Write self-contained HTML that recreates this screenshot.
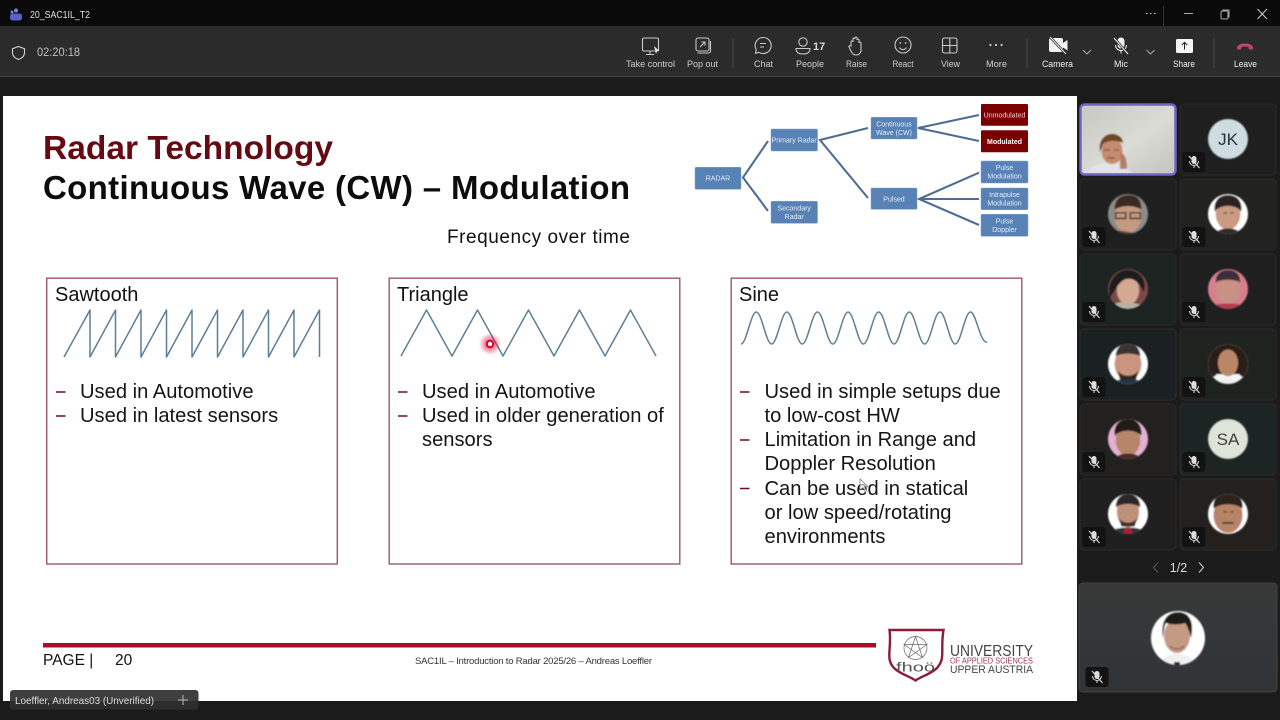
<!DOCTYPE html>
<html lang="en"><head><meta charset="utf-8"><title>Radar Technology</title>
<style>html,body{margin:0;padding:0;background:#1c1c1c;width:1280px;height:720px;overflow:hidden}svg{display:block;font-family:"Liberation Sans",sans-serif}</style></head>
<body>
<svg width="1280" height="720" viewBox="0 0 1280 720" xmlns="http://www.w3.org/2000/svg">
<defs>
<clipPath id="c20"><circle r="17.900"/></clipPath>
<clipPath id="c27"><circle r="27"/></clipPath>
<clipPath id="t1"><rect x="1082" y="106" width="92" height="67" rx="3"/></clipPath>
<radialGradient id="glow"><stop offset="0.2" stop-color="#e8002a" stop-opacity=".7"/><stop offset="1" stop-color="#e8002a" stop-opacity="0"/></radialGradient>
<linearGradient id="bigt" x1="0" y1="0" x2="0" y2="1"><stop offset="0" stop-color="#383838"/><stop offset="1" stop-color="#303437"/></linearGradient>
<linearGradient id="wall" x1="0" y1="0" x2="1" y2="1"><stop offset="0" stop-color="#c8c8c2"/><stop offset=".55" stop-color="#dcdcd6"/><stop offset="1" stop-color="#c4c4be"/></linearGradient>
<filter id="soft" x="-10%" y="-10%" width="120%" height="120%"><feGaussianBlur stdDeviation="0.7"/></filter>
<g id="mute"><rect x="-11.500" y="-10" width="23" height="20" rx="3" fill="#121212"/><rect x="-2.500" y="-6" width="5" height="8" rx="2.500" fill="#ddd"/><path d="M-4.500 -1a4.500 4.500 0 0 0 9 0M0 3.500v2.500" fill="none" stroke="#ddd"/><path d="M-5 -6L5.500 6" stroke="#ddd" stroke-width="1.100"/></g>
</defs>

<!-- window chrome -->
<rect width="1280" height="720" fill="#1b1b1b"/>
<rect width="1280" height="26" fill="#0a0a0a"/>
<rect y="26" width="1280" height="50" fill="#2b2b2b"/>
<rect y="76" width="1280" height="1" fill="#454545"/>
<circle cx="16" cy="10.500" r="2" fill="#7b83d8"/><circle cx="12" cy="12" r="1.500" fill="#7b83d8"/><rect x="10" y="13.500" width="12" height="7" rx="2.500" fill="#5b5fc7"/>
<text x="30" y="18" font-size="10.500" fill="#e0e0e0" textLength="60" lengthAdjust="spacingAndGlyphs">20_SAC1IL_T2</text>
<path d="M1146 13.500h1.500M1150 13.500h1.500M1154 13.500h1.500" stroke="#ccc"/>
<path d="M1163.500 6v21" stroke="#333"/>
<path d="M1184 13.500h9" stroke="#aaa"/>
<rect x="1221" y="11" width="7" height="8" rx="1.500" fill="none" stroke="#aaa"/><path d="M1223 11v-1h6v7h-1" fill="none" stroke="#aaa"/>
<path d="M1257.500 9l9.500 10M1267 9l-9.500 10" stroke="#ccc"/>
<path d="M18.500 46.500l6 2.200v4c0 3.300-2.500 5.500-6 6.800-3.500-1.300-6-3.500-6-6.800v-4z" fill="none" stroke="#d5d5d5" stroke-width="1.100"/>
<text x="37" y="56" font-size="12" fill="#c0c0c0" textLength="43" lengthAdjust="spacingAndGlyphs">02:20:18</text>

<!-- toolbar icons -->
<g fill="none" stroke="#c8c8c8" stroke-width="1.100">
<rect x="642.500" y="38" width="16" height="13" rx="1.500"/><path d="M650 51v3M646 54.500h8"/>
<path d="M654 46l5.500 5-2.500.3-1 2.700z" fill="#e0e0e0" stroke="none"/>
<rect x="696" y="38" width="13" height="13" rx="2"/><path d="M700 47l5-5M701.500 42h3.500v3.500M697.500 53h11a2 2 0 0 0 2-2v-10"/>
<path d="M763 37.500a8 8 0 1 1-4 14.800l-3.500 1 .8-3.600a8 8 0 0 1 6.700-12.200zM760 43.500h6M760 47h4"/>
<circle cx="803" cy="42" r="4.200"/><path d="M796 48.500h14c0 3.500-2.500 5.500-7 5.500s-7-2-7-5.500z"/>
<path d="M851 45v-3a1 1 0 0 1 2 0v-3a1 1 0 0 1 2 0v-1a1 1 0 0 1 2 0v2a1 1 0 0 1 2 0v3a1 1 0 0 1 2 0v7c0 3-2 5-5 5-2.500 0-3.500-1-4.500-3l-2.500-5c-.5-1 1-2 2-1z"/>
<circle cx="903" cy="45" r="8"/><path d="M899.500 47.500a4 4 0 0 0 7 0"/>
<rect x="942.500" y="38" width="14.500" height="15" rx="2"/><path d="M949.800 38v15M942.500 45.500h14.500"/>
</g>
<circle cx="900.300" cy="43" r=".9" fill="#c8c8c8"/><circle cx="905.700" cy="43" r=".9" fill="#c8c8c8"/>
<text x="813" y="50" font-size="11" font-weight="bold" fill="#d8d8d8">17</text>
<circle cx="990.500" cy="45" r="1.100" fill="#ccc"/><circle cx="996" cy="45" r="1.100" fill="#ccc"/><circle cx="1001.500" cy="45" r="1.100" fill="#ccc"/>
<rect x="1049" y="38" width="14" height="14" rx="2" fill="#f2f2f2"/><path d="M1063 43l4.500-3v10.500l-4.500-3z" fill="#f2f2f2"/><path d="M1050 37l16 17" stroke="#2b2b2b" stroke-width="2.500"/><path d="M1050 37l16 17" stroke="#eee"/>
<path d="M1083 50l4 4 4-4M1146.500 50l4 4 4-4" fill="none" stroke="#aaa"/>
<rect x="1117.500" y="37.500" width="7" height="11" rx="3.500" fill="#f2f2f2"/><path d="M1115.500 45a5.500 5.500 0 0 0 11 0M1121 50.500v3" fill="none" stroke="#f2f2f2"/><path d="M1114 38l14 16" stroke="#2b2b2b" stroke-width="2.500"/><path d="M1114 38l14 16" stroke="#eee"/>
<rect x="1176" y="39" width="17" height="14" rx="1.500" fill="#f6f6f6"/><path d="M1184.500 49.500v-7M1181.800 45l2.700-2.700 2.700 2.700" fill="none" stroke="#222"/>
<path d="M1237 48c0-6 16-6 16 0l-.5 1.500h-3.500l-.5-2.500c-2-.7-5-.7-7 0l-.5 2.500h-3.500z" fill="#c2476b"/>
<path d="M733 38v30M1027 38v30M1214 38v30" stroke="#484848"/>
<g font-size="9.500" fill="#cfcfcf">
<text x="626" y="67" textLength="49" lengthAdjust="spacingAndGlyphs">Take control</text>
<text x="687" y="67" textLength="31" lengthAdjust="spacingAndGlyphs">Pop out</text>
<text x="754" y="67" textLength="19" lengthAdjust="spacingAndGlyphs">Chat</text>
<text x="796" y="67" textLength="28" lengthAdjust="spacingAndGlyphs">People</text>
<text x="846" y="67" textLength="21" lengthAdjust="spacingAndGlyphs">Raise</text>
<text x="892.500" y="67" textLength="21" lengthAdjust="spacingAndGlyphs">React</text>
<text x="941" y="67" textLength="19" lengthAdjust="spacingAndGlyphs">View</text>
<text x="986" y="67" textLength="21" lengthAdjust="spacingAndGlyphs">More</text>
<g fill="#f0f0f0">
<text x="1042" y="67" textLength="31" lengthAdjust="spacingAndGlyphs">Camera</text>
<text x="1114" y="67" textLength="14" lengthAdjust="spacingAndGlyphs">Mic</text>
<text x="1173" y="67" textLength="22" lengthAdjust="spacingAndGlyphs">Share</text>
<text x="1234" y="67" textLength="23" lengthAdjust="spacingAndGlyphs">Leave</text>
</g>
</g>

<!-- slide -->
<rect x="3" y="96" width="1074" height="605" fill="#fff"/>
<text x="43" y="159" font-size="33.500" font-weight="bold" fill="#660912" textLength="290" lengthAdjust="spacing">Radar Technology</text>
<text x="43" y="199" font-size="33" font-weight="bold" fill="#0c0c0c" textLength="587" lengthAdjust="spacing">Continuous Wave (CW) – Modulation</text>
<text x="447" y="243" font-size="19" fill="#111" textLength="183" lengthAdjust="spacing">Frequency over time</text>

<!-- radar tree -->
<g fill="none" stroke="#4f6c94" stroke-width="2.100">
<path d="M768 141L743 177.500L768 211"/>
<path d="M868 128L820 140L868 198"/>
<path d="M979 115L918 128L979 141"/>
<path d="M979 172.700L919 199L979 225M919 199H979"/>
</g>
<g fill="#5882b6" stroke="#7f9fc9" stroke-width=".5">
<rect x="695" y="167.300" width="46" height="22" rx="1"/>
<rect x="771" y="129" width="46.500" height="22" rx="1"/>
<rect x="771" y="201.300" width="46.500" height="22" rx="1"/>
<rect x="871" y="117.300" width="46" height="21.700" rx="1"/>
<rect x="871" y="188" width="46" height="21.300" rx="1"/>
<rect x="981" y="161" width="47" height="22" rx="1"/>
<rect x="981" y="188" width="47" height="21.700" rx="1"/>
<rect x="981" y="214.300" width="47" height="22" rx="1"/>
</g>
<rect x="981" y="104" width="47" height="21.700" rx="1" fill="#7a0000"/>
<rect x="981" y="130.300" width="47" height="22" rx="1" fill="#7a0000"/>
<g font-size="7" fill="#e4edf7" text-anchor="middle">
<text x="718" y="180.700">RADAR</text>
<text x="794.200" y="142.500">Primary Radar</text>
<text x="794.200" y="210.500">Secondary</text><text x="794.200" y="219">Radar</text>
<text x="894" y="126.500">Continuous</text><text x="894" y="135">Wave (CW)</text>
<text x="894" y="201.500">Pulsed</text>
<text x="1004.500" y="170">Pulse</text><text x="1004.500" y="178.500">Modulation</text>
<text x="1004.500" y="197">Intrapulse</text><text x="1004.500" y="205.500">Modulation</text>
<text x="1004.500" y="223.500">Pulse</text><text x="1004.500" y="232">Doppler</text>
<text x="1004.500" y="117.500" fill="#f6c9cf">Unmodulated</text>
<text x="1004.500" y="144" fill="#fff" font-weight="bold">Modulated</text>
</g>

<!-- panels -->
<g fill="#fff" stroke="#9c5868" stroke-width="1.400">
<rect x="46.700" y="278.200" width="290.600" height="285.800"/>
<rect x="389.200" y="278.200" width="290.600" height="285.800"/>
<rect x="731.200" y="278.200" width="290.600" height="285.800"/>
</g>
<g font-size="20" fill="#111">
<text x="55" y="301">Sawtooth</text><text x="397" y="301">Triangle</text><text x="739" y="301">Sine</text>
</g>
<g fill="none" stroke="#5f7f97" stroke-width="1.500" stroke-linejoin="round">
<path d="M64 357L90 310V357L115.500 310V357L141 310V357L166.500 310V357L192 310V357L217.500 310V357L243 310V357L268.500 310V357L294 310V357L319.500 310V357"/>
<path d="M401 356L426.500 310L452 356L477.500 310L503 356L528.500 310L554 356L579.500 310L605 356L630.500 310L656 356"/>
<path d="M741 344C746.600 344 750.700 312 756.300 312S766 344 771.600 344S781.300 312 786.900 312S796.600 344 802.200 344S811.900 312 817.500 312S827.200 344 832.800 344S842.500 312 848.100 312S857.800 344 863.400 344S873.100 312 878.700 312S888.400 344 894 344S903.700 312 909.300 312S919 344 924.600 344S934.300 312 939.900 312S949.600 344 955.200 344S964.900 312 970.500 312S980.200 344 987 342"/>
</g>
<g font-size="20.150" fill="#151515">
<text x="80" y="398">Used in Automotive</text>
<text x="80" y="422">Used in latest sensors</text>
<text x="422" y="398">Used in Automotive</text>
<text x="422" y="422">Used in older generation of</text>
<text x="422" y="446">sensors</text>
<text x="764.500" y="398">Used in simple setups due</text>
<text x="764.500" y="422">to low-cost HW</text>
<text x="764.500" y="446">Limitation in Range and</text>
<text x="764.500" y="470">Doppler Resolution</text>
<text x="764.500" y="495">Can be used in statical</text>
<text x="764.500" y="519">or low speed/rotating</text>
<text x="764.500" y="543">environments</text>
</g>
<path d="M56 392h9.500M56 416h9.500M398 392h9.500M398 416h9.500M740 392h9.500M740 440h9.500M740 488.500h9.500" stroke="#6e0a28" stroke-width="1.500"/>

<!-- laser and cursor -->
<circle cx="490" cy="344" r="11" fill="url(#glow)"/>
<circle cx="490" cy="344" r="3.200" fill="#fff" stroke="#d8002a" stroke-width="2"/>
<path d="M860 479v11l3-2.500 2 4 1.500-.8-2-3.800 3.500-.3z" fill="#fff" fill-opacity=".6" stroke="#777" stroke-width=".7"/>

<!-- footer -->
<rect x="43" y="643" width="833" height="4.500" fill="#a80d2c"/>
<text x="43" y="665" font-size="15.500" fill="#111">PAGE |</text>
<text x="115" y="665" font-size="15.500" fill="#111">20</text>
<text x="415" y="664" font-size="9.500" fill="#333" textLength="237" lengthAdjust="spacing">SAC1IL – Introduction to Radar 2025/26 – Andreas Loeffler</text>
<path d="M889.500 630H943.500C940 650 946 658 937 668C931 674 922 676 915.500 680.500C909 676 900 674 894 668C885 658 892 650 889.500 630Z" fill="#fff" stroke="#8e1b35" stroke-width="2.400"/>
<g fill="none" stroke="#666" stroke-width=".7"><circle cx="915.500" cy="648" r="11.500"/><path d="M915.500 636.500l7 21-18.500-13h23L908.500 657.500z"/></g>
<text x="896" y="671.500" font-size="13" fill="#555" textLength="39" lengthAdjust="spacingAndGlyphs">fhoö</text>
<text x="950" y="656" font-size="15.500" fill="#444" textLength="83" lengthAdjust="spacingAndGlyphs">UNIVERSITY</text>
<text x="950" y="663.500" font-size="8" fill="#a63355" textLength="83" lengthAdjust="spacingAndGlyphs">OF APPLIED SCIENCES</text>
<text x="950" y="673" font-size="11" fill="#444" textLength="83" lengthAdjust="spacingAndGlyphs">UPPER AUSTRIA</text>

<!-- name label -->
<rect x="10" y="690" width="188.500" height="19.500" rx="3" fill="#2f2f2f" fill-opacity=".92"/>
<text x="15" y="704" font-size="10.500" fill="#dcdcdc" textLength="139" lengthAdjust="spacingAndGlyphs">Loeffler, Andreas03 (Unverified)</text>
<path d="M178 700h10M183 695v10" stroke="#bbb"/>

<!-- tiles -->
<g fill="#1f1f1f" stroke="#2b2b2b">
<rect x="1180" y="104" width="96" height="71" rx="4"/>
<rect x="1080" y="179" width="96" height="71" rx="4"/><rect x="1180" y="179" width="96" height="71" rx="4" fill="#222220"/>
<rect x="1080" y="254" width="96" height="71" rx="4" fill="#1c2321"/><rect x="1180" y="254" width="96" height="71" rx="4"/>
<rect x="1080" y="329" width="96" height="71" rx="4" fill="#1b2122"/><rect x="1180" y="329" width="96" height="71" rx="4" fill="#1f231f"/>
<rect x="1080" y="404" width="96" height="71" rx="4" fill="#23211f"/><rect x="1180" y="404" width="96" height="71" rx="4" fill="#1d2424"/>
<rect x="1080" y="479" width="96" height="71" rx="4"/><rect x="1180" y="479" width="96" height="71" rx="4" fill="#23201e"/>
</g>
<rect x="1079" y="583" width="198" height="109" rx="4" fill="url(#bigt)" stroke="#434343"/>

<!-- presenter -->
<rect x="1080.500" y="104.500" width="95" height="70" rx="4" fill="#d0d0cc" stroke="#6f66c4" stroke-width="2.500"/>
<g clip-path="url(#t1)" filter="url(#soft)">
<rect x="1082" y="106" width="92" height="67" fill="url(#wall)"/>
<path d="M1088 173c4-9 14-9 24-11l12 3 8 8z" fill="#e2e4e6"/>
<ellipse cx="1112" cy="151" rx="10.500" ry="13" fill="#c58c70"/>
<path d="M1100 152c-2-13 6-19 14-18 6 1 9 5 9 9-6-3-15-3-20 1z" fill="#6c4a28"/>
<path d="M1120 152c5 2 7 7 7 17h-7z" fill="#b57d66"/>
<path d="M1104 150h6M1114 150h5M1107 158h8" stroke="#4c2a20"/>
</g>

<!-- avatars -->
<g filter="url(#soft)">
<circle cx="1228" cy="139" r="20" fill="#cfdde2"/>
<g transform="translate(1128 214) scale(1.120)" clip-path="url(#c20)"><rect x="-20" y="-20" width="40" height="40" fill="#8b8b88"/><ellipse cx="0" cy="2" rx="12" ry="15" fill="#c39a80"/><path d="M-12 -4c0-10 6-13 13-13s11 4 11 13c-7-4-17-4-24 0z" fill="#3a2a22"/><path d="M-11-1h9v5h-9zM2-1h9v5h-9z" fill="none" stroke="#222" stroke-width="1.200"/><path d="M-20 20c4-5 12-6 20-4s14 0 20 4z" fill="#5a4436"/></g>
<g transform="translate(1228 214) scale(1.120)" clip-path="url(#c20)"><rect x="-20" y="-20" width="40" height="40" fill="#fff"/><ellipse cx="0" cy="0" rx="11" ry="14" fill="#c89b82"/><path d="M-12-2c-1-12 6-15 12-15s13 3 12 15c-5-7-19-7-24 0z" fill="#2a2420"/><path d="M-4-1h3M2-1h3" stroke="#333"/><path d="M-12 20c2-6 6-7 12-7s10 1 12 7z" fill="#2f2a28"/></g>
<g transform="translate(1128 289) scale(1.120)" clip-path="url(#c20)"><rect x="-20" y="-20" width="40" height="40" fill="#7c4a48"/><ellipse cx="0" cy="1" rx="10" ry="13" fill="#d4a992"/><path d="M-16 8c-4-14 6-26 17-25s16 10 13 20c-3-8-9-13-14-12-6 0-10 7-16 17z" fill="#1e1a1a"/><path d="M-16 20c2-8 8-9 16-8s14 1 16 8z" fill="#b8b39f"/></g>
<g transform="translate(1228 289) scale(1.120)" clip-path="url(#c20)"><rect x="-20" y="-20" width="40" height="40" fill="#d77f8d"/><ellipse cx="0" cy="0" rx="10.500" ry="14" fill="#c99086"/><path d="M-11-6c0-8 5-11 11-11s11 3 11 11c-6-3-16-3-22 0z" fill="#3e2f3d"/><path d="M-16 20c3-7 9-7 16-7s13 0 16 7z" fill="#b83a4c"/></g>
<g transform="translate(1128 364) scale(1.120)" clip-path="url(#c20)"><rect x="-20" y="-20" width="40" height="40" fill="#fff"/><ellipse cx="0" cy="0" rx="12" ry="15" fill="#c9957e"/><path d="M-11-7c0-7 5-12 11-12s11 5 11 12c-6-3-16-3-22 0z" fill="#3d3330"/><path d="M-9 6c4 6 14 6 18 0l-2 9h-14z" fill="#33261f"/><path d="M-18 20c3-6 10-6 18-6s15 0 18 6z" fill="#26324c"/></g>
<g transform="translate(1228 364) scale(1.120)" clip-path="url(#c20)"><rect x="-20" y="-20" width="40" height="40" fill="#f5f5f5"/><path d="M-20 9c-3-20 8-29 20-29s23 9 20 29c-3 4-7 4-10 0h-20c-3 4-7 4-10 0z" fill="#2b1c14"/><ellipse cx="0" cy="-1" rx="9" ry="12" fill="#b98668"/><path d="M-9 20c1-6 5-7 9-7s8 1 9 7z" fill="#eee"/></g>
<g transform="translate(1128 439) scale(1.120)" clip-path="url(#c20)"><rect x="-20" y="-20" width="40" height="40" fill="#e4b0d2"/><ellipse cx="0" cy="1" rx="11" ry="14" fill="#b78668"/><path d="M-12-3c-1-10 5-15 12-15s13 5 12 15c-6-6-18-6-24 0z" fill="#241a18"/><path d="M-13 20c3-6 7-7 13-7s10 1 13 7z" fill="#4a2c2c"/></g>
<circle cx="1228" cy="439" r="20" fill="#dfe4d8"/>
<g transform="translate(1128 514) scale(1.120)" clip-path="url(#c20)"><rect x="-20" y="-20" width="40" height="40" fill="#fff"/><ellipse cx="0" cy="-2" rx="10" ry="14" fill="#c0917a"/><path d="M-11-6c0-8 5-12 11-12s11 4 11 12c-6-4-16-4-22 0z" fill="#2d2826"/><path d="M-8 4c4 5 12 5 16 0l-2 7h-12z" fill="#3a2b26"/><path d="M-18 20c3-7 10-8 18-8s15 1 18 8z" fill="#2a3040"/><path d="M-3 13h6l1 7h-8z" fill="#b51f30"/></g>
<g transform="translate(1228 514) scale(1.120)" clip-path="url(#c20)"><rect x="-20" y="-20" width="40" height="40" fill="#fff"/><ellipse cx="0" cy="1" rx="13" ry="16" fill="#b88468"/><path d="M-13-5c-1-10 6-14 13-14s14 4 13 14c-7-5-19-5-26 0z" fill="#2a211e"/><path d="M-5 8h10" stroke="#3d2a22" stroke-width="1.500"/><path d="M-4-2h3M2-2h3" stroke="#222"/></g>
<g transform="translate(1178 638)" clip-path="url(#c27)"><rect x="-27" y="-27" width="54" height="54" fill="#fff"/><ellipse cx="-1" cy="-2" rx="13" ry="17" fill="#c49a84"/><path d="M-15 0c-3-18 5-26 15-26s17 8 13 26c-2-8-4-13-6-15-6 2-13 2-19 0-2 3-2 8-3 15z" fill="#1f1a18"/><path d="M-18 27c2-8 8-11 17-11s16 3 18 11z" fill="#f0f0f0"/><path d="M-4 24h6v3h-6z" fill="#222"/><path d="M-8 8c4 4 10 4 14 0" stroke="#7a4a42" fill="none"/></g>
</g>
<text x="1228" y="145" font-size="17" fill="#25323a" text-anchor="middle">JK</text>
<text x="1228" y="445" font-size="17" fill="#3c443a" text-anchor="middle">SA</text>

<!-- mute badges -->
<use href="#mute" x="1194" y="162"/>
<use href="#mute" x="1094" y="237"/><use href="#mute" x="1194" y="237"/>
<use href="#mute" x="1094" y="312"/><use href="#mute" x="1194" y="312"/>
<use href="#mute" x="1094" y="387"/><use href="#mute" x="1194" y="387"/>
<use href="#mute" x="1094" y="462"/><use href="#mute" x="1194" y="462"/>
<use href="#mute" x="1094" y="537"/><use href="#mute" x="1194" y="537"/>
<use href="#mute" x="1097" y="677"/>

<!-- pager -->
<path d="M1158 562.500l-4.500 5 4.500 5" fill="none" stroke="#555" stroke-width="1.100"/>
<path d="M1199 562.500l4.500 5-4.500 5" fill="none" stroke="#ccc" stroke-width="1.100"/>
<text x="1178.500" y="572" font-size="12.500" fill="#ddd" text-anchor="middle">1/2</text>
</svg>
</body></html>
